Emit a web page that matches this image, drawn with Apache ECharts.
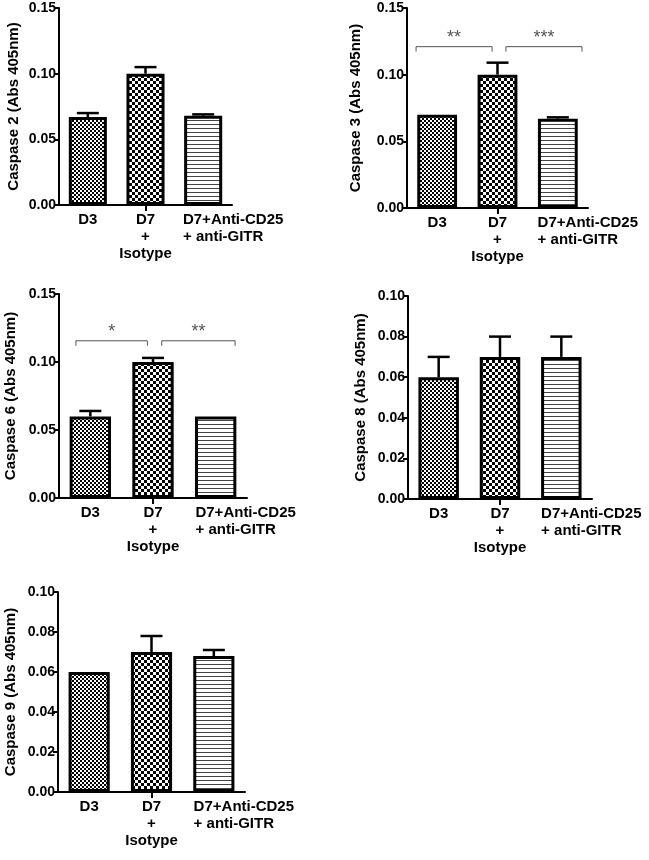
<!DOCTYPE html>
<html><head><meta charset="utf-8">
<script src="https://cdn.jsdelivr.net/npm/echarts@6/dist/echarts.min.js"></script>
<style>html,body{margin:0;padding:0;background:#fff}#c{width:649px;height:860px}</style>
</head><body><div id="c"></div>
<script>
const categories = ['D3', 'D7\n+\nIsotype', 'D7+Anti-CD25\n+ anti-GITR'];
const yTitles = ['Caspase 2 (Abs 405nm)', 'Caspase 3 (Abs 405nm)', 'Caspase 6 (Abs 405nm)', 'Caspase 8 (Abs 405nm)', 'Caspase 9 (Abs 405nm)'];
const casp2Mean = [0.067, 0.100, 0.068];
const casp2Err  = [0.003, 0.005, 0.001];
const casp3Mean = [0.070, 0.100, 0.067];
const casp3Err  = [0, 0.009, 0.001];
const casp6Mean = [0.060, 0.100, 0.060];
const casp6Err  = [0.004, 0.003, 0];
const casp8Mean = [0.060, 0.070, 0.070];
const casp8Err  = [0.010, 0.010, 0.010];
const casp9Mean = [0.060, 0.070, 0.068];
const casp9Err  = [0, 0.008, 0.003];
const casp3Brackets = [[-0.35, 0.91, 0.121], [1.14, 2.40, 0.121]];
const casp3Stars = ['**', '***'];
const casp6Brackets = [[-0.23, 0.91, 0.1156], [1.14, 2.31, 0.1156]];
const casp6Stars = ['*', '**'];
const yMaxes = [0.15, 0.15, 0.15, 0.10, 0.10];
const yIntervals = [0.05, 0.05, 0.05, 0.02, 0.02];

const FONT = '"Liberation Sans", Arial, sans-serif';
const panels = [
  {mean: casp2Mean, err: casp2Err},
  {mean: casp3Mean, err: casp3Err, br: casp3Brackets, stars: casp3Stars},
  {mean: casp6Mean, err: casp6Err, br: casp6Brackets, stars: casp6Stars},
  {mean: casp8Mean, err: casp8Err},
  {mean: casp9Mean, err: casp9Err}
];
const grids = [
  {left: 59, top: 8, width: 173, height: 197},
  {left: 407, top: 8, width: 181, height: 200},
  {left: 59, top: 294, width: 188, height: 204},
  {left: 408, top: 296, width: 184, height: 203},
  {left: 58, top: 592, width: 187, height: 200}
];
const nameGaps = [38, 44, 41, 40, 40];

function makePattern(kind) {
  const c = document.createElement('canvas');
  const ctx = c.getContext('2d');
  if (kind === 'fine') {
    c.width = 4; c.height = 4;
    ctx.fillStyle = '#fff'; ctx.fillRect(0, 0, 4, 4);
    ctx.fillStyle = '#000'; ctx.fillRect(0, 0, 2, 2); ctx.fillRect(2, 2, 2, 2);
  } else if (kind === 'coarse') {
    c.width = 6; c.height = 6;
    ctx.fillStyle = '#fff'; ctx.fillRect(0, 0, 6, 6);
    ctx.fillStyle = '#000'; ctx.fillRect(0, 0, 3, 3); ctx.fillRect(3, 3, 3, 3);
  } else {
    c.width = 4; c.height = 4;
    ctx.fillStyle = '#fff'; ctx.fillRect(0, 0, 4, 4);
    ctx.fillStyle = '#444'; ctx.fillRect(0, 0, 4, 1);
  }
  return c;
}
const patterns = [makePattern('fine'), makePattern('coarse'), makePattern('lines')];

const grid = [], xAxis = [], yAxis = [], series = [];
panels.forEach((p, k) => {
  grid.push(grids[k]);
  xAxis.push({
    type: 'category', gridIndex: k, data: categories, boundaryGap: true,
    axisLine: {lineStyle: {color: '#000', width: 2}},
    axisTick: {show: true, alignWithLabel: true, interval: (i) => i === 1, length: 6, lineStyle: {color: '#000', width: 2}},
    axisLabel: {
      interval: 0, margin: 6, color: '#000', fontFamily: FONT, fontWeight: 'bold', fontSize: 15, lineHeight: 17,
      formatter: (v, i) => i === 2 ? v.split('\n').map(l => '{s| }{t|' + l + '}').join('\n') : v,
      rich: {
        s: {width: 60, align: 'left', fontSize: 15, lineHeight: 17},
        t: {align: 'left', fontSize: 15, fontWeight: 'bold', fontFamily: FONT, color: '#000', lineHeight: 17}
      }
    },
    splitLine: {show: false}
  });
  yAxis.push({
    type: 'value', gridIndex: k, min: 0, max: yMaxes[k], interval: yIntervals[k],
    name: yTitles[k], nameLocation: 'middle', nameGap: nameGaps[k],
    nameTextStyle: {color: '#000', fontFamily: FONT, fontWeight: 'bold', fontSize: 15},
    axisLine: {show: true, lineStyle: {color: '#000', width: 2}},
    axisTick: {show: true, length: 5, lineStyle: {color: '#000', width: 2}},
    axisLabel: {margin: 3, color: '#000', fontFamily: FONT, fontWeight: 'bold', fontSize: 14, formatter: v => v.toFixed(2)},
    splitLine: {show: false}
  });
  series.push({
    type: 'bar', xAxisIndex: k, yAxisIndex: k, barWidth: '66%',
    data: p.mean.map((v, i) => ({value: v, itemStyle: {color: {image: patterns[i], repeat: 'repeat'}}})),
    itemStyle: {borderColor: '#000', borderWidth: 3},
    emphasis: {disabled: true}, z: 2
  });
  series.push({
    type: 'custom', xAxisIndex: k, yAxisIndex: k, z: 5,
    data: p.mean.map((m, i) => [i, m, p.err[i]]),
    encode: {x: 0, y: 1},
    renderItem: (params, api) => {
      const i = api.value(0), m = api.value(1), e = api.value(2);
      if (!e) return null;
      const p0 = api.coord([i, m]), p1 = api.coord([i, m + e]);
      return {type: 'group', children: [
        {type: 'line', shape: {x1: p0[0], y1: p0[1], x2: p1[0], y2: p1[1]}, style: {stroke: '#000', lineWidth: 2.5}},
        {type: 'line', shape: {x1: p1[0] - 11, y1: p1[1], x2: p1[0] + 11, y2: p1[1]}, style: {stroke: '#000', lineWidth: 2.5}}
      ]};
    }
  });
  if (p.br) {
    const stars = p.stars;
    series.push({
      type: 'custom', xAxisIndex: k, yAxisIndex: k, z: 6,
      data: p.br,
      encode: {x: 0, y: 2},
      renderItem: (params, api) => {
        const x1 = api.value(0), x2 = api.value(1), y = api.value(2);
        const a = api.coord([0, y]), b = api.coord([1, y]);
        const bw = b[0] - a[0];
        const px1 = a[0] + x1 * bw, px2 = a[0] + x2 * bw, py = a[1];
        return {type: 'group', children: [
          {type: 'polyline', shape: {points: [[px1, py + 5], [px1, py], [px2, py], [px2, py + 5]]}, style: {stroke: '#555', lineWidth: 1, fill: null}},
          {type: 'text', style: {text: stars[params.dataIndex], x: (px1 + px2) / 2, y: py - 9, align: 'center', verticalAlign: 'middle', fill: '#555', fontSize: 18, fontFamily: FONT}}
        ]};
      }
    });
  }
});

const chart = echarts.init(document.getElementById('c'), null, {renderer: 'canvas'});
chart.setOption({backgroundColor: '#fff', animation: false, grid, xAxis, yAxis, series});
</script>
</body></html>
